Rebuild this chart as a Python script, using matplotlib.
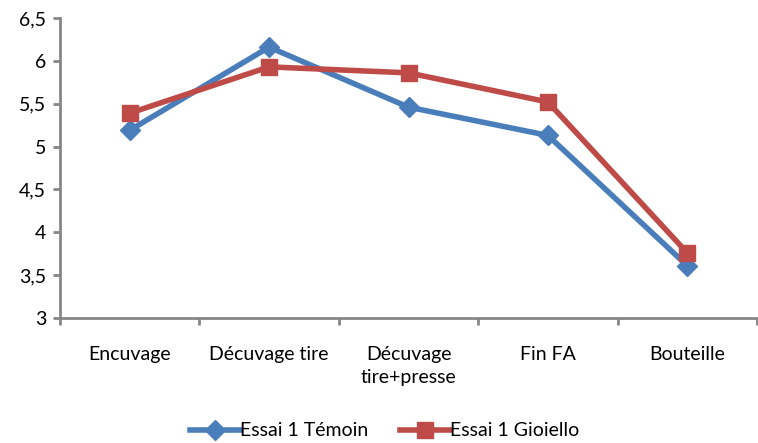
import matplotlib.pyplot as plt
from matplotlib.ticker import FuncFormatter

etapes = ['Encuvage', 'Décuvage tire', 'Décuvage\ntire+presse', 'Fin FA', 'Bouteille']
temoin = [5.19, 6.16, 5.46, 5.13, 3.61]
gioiello = [5.39, 5.93, 5.86, 5.52, 3.76]

plt.rcParams['font.family'] = ['Lato', 'DejaVu Sans']

fig = plt.figure(figsize=(7.58, 4.43), dpi=100)
ax = fig.add_axes([60 / 758, 125 / 443, 697 / 758, 300 / 443])

x = list(range(len(etapes)))
ax.plot(x, temoin, color='#4a7ebb', lw=4, marker='D', ms=10, label='Essai 1 Témoin')
ax.plot(x, gioiello, color='#be4b48', lw=4, marker='s', ms=11, label='Essai 1 Gioiello')

ax.set_xlim(-0.5, len(etapes) - 0.5)
ax.set_ylim(3, 6.5)
ax.set_yticks([3, 3.5, 4, 4.5, 5, 5.5, 6, 6.5])
ax.yaxis.set_major_formatter(FuncFormatter(lambda v, p: f'{v:g}'.replace('.', ',')))
ax.set_xticks(x)
ax.set_xticklabels(etapes, linespacing=1.45)
ax.set_xticks([i - 0.5 for i in range(len(etapes) + 1)], minor=True)
ax.tick_params(axis='x', which='major', length=0, pad=20, labelsize=14)
ax.tick_params(axis='x', which='minor', length=5, width=2, color='#868686')
ax.tick_params(axis='y', length=5, width=2, color='#868686', labelsize=14, pad=5)

for s in ['top', 'right']:
    ax.spines[s].set_visible(False)
for s in ['left', 'bottom']:
    ax.spines[s].set_color('#868686')
    ax.spines[s].set_linewidth(2)

ax.legend(loc='upper center', bbox_to_anchor=(0.466, -0.29), ncol=2, frameon=False,
          fontsize=14, handlelength=2.6, columnspacing=1.6, handletextpad=0.0)

fig.savefig('out.png', dpi=100)
